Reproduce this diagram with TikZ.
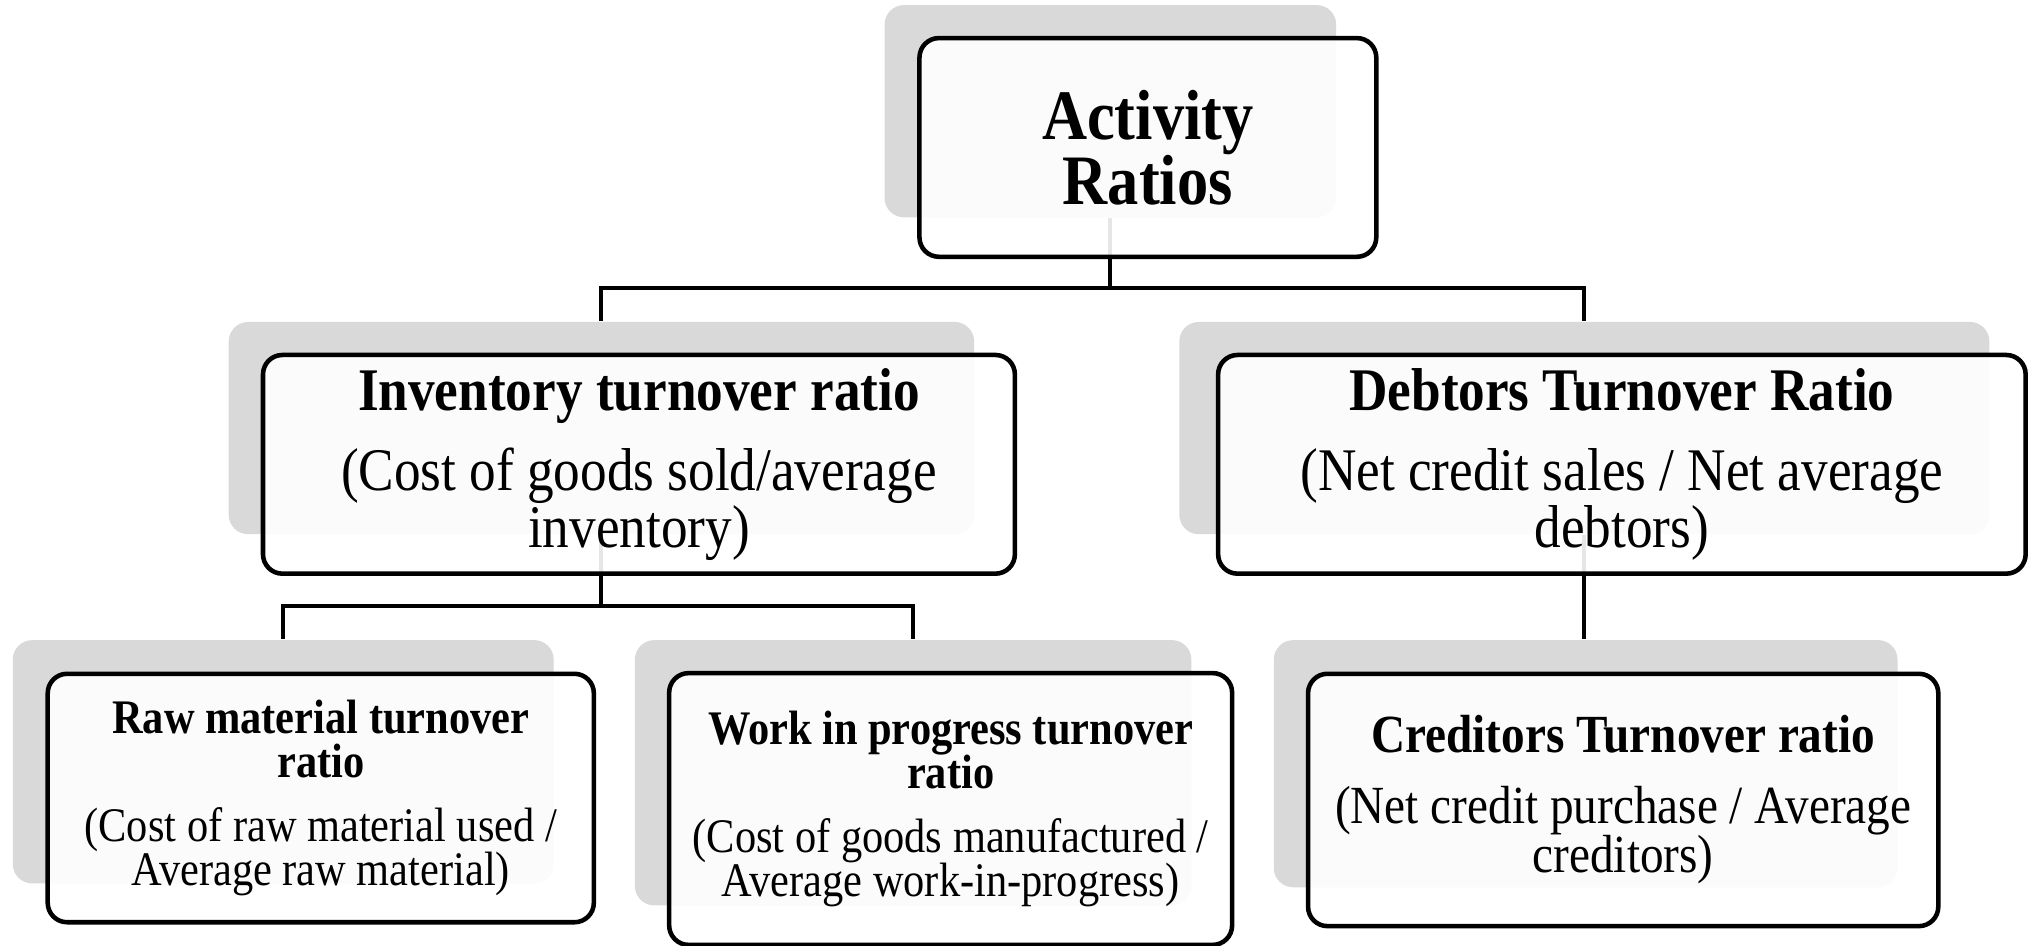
\documentclass[tikz,border=0pt]{standalone}
\usepackage{fontspec}
\setmainfont{Liberation Serif}[FakeStretch=0.88]
\usetikzlibrary{positioning}
\lineskiplimit=-100pt

\begin{document}
\begin{tikzpicture}[
    x=0.01cm, y=-0.01cm,
    backing/.style={rectangle, rounded corners=0.15cm, fill=black!15, inner sep=0pt},
    box/.style={rectangle, rounded corners=0.15cm, draw=black, line width=1pt,
      fill=white, fill opacity=0.9, text opacity=1, inner sep=0pt, align=center,
      xshift=0.29cm, yshift=-0.28cm},
    link/.style={draw=black, line width=0.9pt},
    toptext/.style={font=\fontsize{15.6}{14.2}\selectfont\bfseries},
    midtext/.style={font=\fontsize{13.3}{12.6}\selectfont},
    lowtext/.style={font=\fontsize{10.6}{9.6}\selectfont},
    credtext/.style={font=\fontsize{11.8}{10.9}\selectfont}]

  \useasboundingbox (0,0) rectangle (1568,731);

  % grey backings
  \node[backing, minimum width=3.49cm, minimum height=1.64cm] (act) at (858.5,86) {};
  \node[backing, minimum width=5.76cm, minimum height=1.64cm] (inv) at (465,331) {};
  \node[backing, minimum width=6.26cm, minimum height=1.64cm] (debt) at (1225,331) {};
  \node[backing, minimum width=4.18cm, minimum height=1.88cm] (raw) at (219,589) {};
  \node[backing, minimum width=4.30cm, minimum height=2.05cm] (wip) at (706,597.5) {};
  \node[backing, minimum width=4.82cm, minimum height=1.91cm] (cred) at (1226,590.5) {};

  \draw[link] (act.south) -- +(0,54) -| (inv.north);
  \draw[link] (act.south) -- +(0,54) -| (debt.north);
  \draw[link] (inv.south) -- +(0,55) -| (raw.north);
  \draw[link] (inv.south) -- +(0,55) -| (wip.north);
  \draw[link] (debt.south) -- (debt.south |- cred.north);

  \node[box, toptext, minimum width=3.53cm, minimum height=1.69cm] (actbox) at (act.center)
    {Activity\\Ratios};
  \node[box, midtext, minimum width=5.81cm, minimum height=1.69cm] (invbox) at (inv.center)
    {\textbf{Inventory turnover ratio}\\[5pt](Cost of goods sold/average\\inventory)};
  \node[box, midtext, minimum width=6.24cm, minimum height=1.69cm] (debtbox) at (debt.center)
    {\textbf{Debtors Turnover Ratio}\\[5pt](Net credit sales / Net average\\debtors)};
  \node[box, lowtext, minimum width=4.22cm, minimum height=1.92cm] (rawbox) at (raw.center)
    {\textbf{Raw material turnover}\\\textbf{ratio}\\[4.6pt](Cost of raw material used /\\Average raw material)};
  \node[box, lowtext, minimum width=4.35cm, minimum height=2.10cm] (wipbox) at (wip.center)
    {\textbf{Work in progress turnover}\\\textbf{ratio}\\[4.6pt](Cost of goods manufactured /\\Average work-in-progress)};
  \node[box, credtext, minimum width=4.87cm, minimum height=1.95cm] (credbox) at (cred.center)
    {\textbf{Creditors Turnover ratio}\\[4.6pt](Net credit purchase / Average\\creditors)};

\end{tikzpicture}
\end{document}
